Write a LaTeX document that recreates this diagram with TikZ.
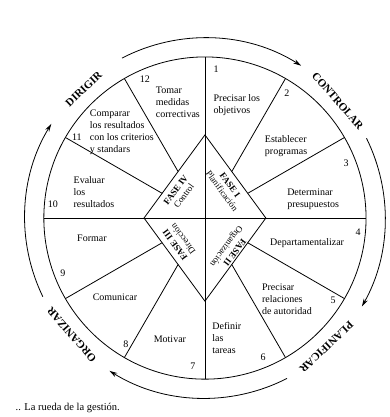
\documentclass[tikz,border=0pt]{standalone}
\usepackage{fontspec}
\setmainfont{Liberation Serif}
\usetikzlibrary{arrows.meta}

\begin{document}
\begin{tikzpicture}[every node/.style={font=\fontsize{10}{12}\selectfont},
    seg/.style={align=left},
    fase/.style={align=center, font=\fontsize{9}{10}\selectfont},
    gestion/.style={font=\fontsize{11}{13}\selectfont\bfseries},
    ciclo/.style={line width=0.8pt, -{Stealth[length=8pt,width=4.5pt]}},
    every path/.style={line width=0.8pt}]
  \useasboundingbox (-7.20,-6.99) rectangle (6.47,7.66);

  \draw (0,0) circle (5.66);
  \coordinate (top) at (0,2.92);
  \coordinate (right) at (2.14,0);
  \coordinate (bottom) at (0,-2.92);
  \coordinate (left) at (-2.14,0);
  \draw (top) -- (right) -- (bottom) -- (left) -- cycle;
  \draw (180:5.66) -- (0:5.66);
  \draw (90:5.66) -- (270:5.66);
  \foreach \a in {30,60,120,150,210,240,300,330}{
    \pgfmathsetmacro{\rin}{1/(abs(cos(\a))/2.14+abs(sin(\a))/2.92)}
    \draw (\a:\rin) -- (\a:5.66);
  }

  \draw[ciclo] (117.4:6.33) arc[start angle=117.4, end angle=57.7, radius=6.33];
  \draw[ciclo] (26.3:6.33) arc[start angle=26.3, end angle=-29.4, radius=6.33];
  \draw[ciclo] (-62.9:6.33) arc[start angle=-62.9, end angle=-122, radius=6.33];
  \draw[ciclo] (205.9:6.33) arc[start angle=205.9, end angle=148.5, radius=6.33];

  \node[gestion, rotate=43.2] (dirigir) at (133.2:6.22) {DIRIGIR};
  \node[gestion, rotate=-48.6] (controlar) at (41.4:6.22) {CONTROLAR};
  \node[gestion, rotate=-136.7] (planificar) at (-46.7:6.22) {PLANIFICAR};
  \node[gestion, rotate=-228.8] (organizar) at (-138.8:6.22) {ORGANIZAR};

  \node[fase, rotate=-53.7] (fase1) at (0.74,1.05) {\textbf{FASE I}\\Planificación};
  \node[fase, rotate=-126.3] (fase2) at (0.88,-1.09) {\textbf{FASE II}\\Organización};
  \node[fase, rotate=126.3] (fase3) at (-0.91,-0.84) {\textbf{FASE III}\\Dirección};
  \node[fase, rotate=53.7] (fase4) at (-0.88,0.88) {\textbf{FASE IV}\\Control};

  \foreach \n/\x/\y in {1/0.39/5.24, 2/2.88/4.39, 3/4.96/1.93, 4/5.38/-0.49,
      5/4.50/-2.88, 6/2.04/-4.89, 7/-0.42/-5.20, 8/-2.78/-4.43,
      9/-4.99/-1.93, 10/-5.34/0.49, 11/-4.50/2.85, 12/-2.11/4.89}
    \node (n\n) at (\x,\y) {\n};

  \node[seg] (s1) at (1.12,3.97) {Precisar los\\objetivos};
  \node[seg] (s2) at (2.85,2.53) {Establecer\\programas};
  \node[seg] (s3) at (3.80,0.67) {Determinar\\presupuestos};
  \node[seg] (s4) at (3.59,-0.88) {Departamentalizar};
  \node[seg] (s5) at (2.88,-2.85) {Precisar\\relaciones\\de autoridad};
  \node[seg] (s6) at (0.77,-4.22) {Definir\\las\\tareas};
  \node[seg] (s7) at (-1.23,-4.25) {Motivar};
  \node[seg] (s8) at (-3.16,-2.78) {Comunicar};
  \node[seg] (s9) at (-3.97,-0.70) {Formar};
  \node[seg] (s10) at (-3.90,0.91) {Evaluar\\los\\resultados};
  \node[seg] (s11) at (-2.92,3.02) {Comparar\\los resultados\\con los criterios\\y standars};
  \node[seg] (s12) at (-0.95,4.08) {Tomar\\medidas\\correctivas};

  \node[anchor=base west, font=\fontsize{10.5}{12}\selectfont] (caption) at (-6.78,-6.75) {.. La rueda de la gestión.};
\end{tikzpicture}
\end{document}
